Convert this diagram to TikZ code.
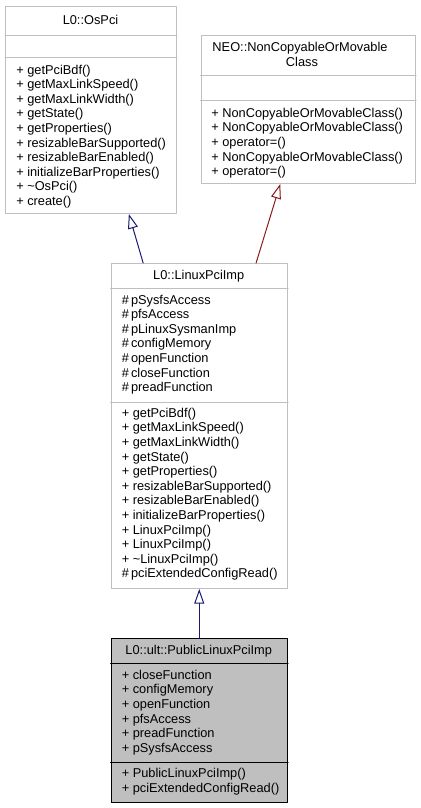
\documentclass[tikz,border=0pt]{standalone}
\usepackage{fontspec}
\setmainfont{Liberation Sans}
\usetikzlibrary{arrows.meta,calc}
\definecolor{umlborder}{HTML}{BFBFBF}
\definecolor{umlcurrent}{HTML}{BFBFBF}
\definecolor{umlblue}{HTML}{191970}
\definecolor{umlred}{HTML}{8B1A1A}
\newcommand{\umlfont}{\fontsize{9.6}{11}\selectfont}
\tikzset{
every picture/.style={line cap=round,line join=round},
class box/.style={
  draw=umlborder,
  line width=0.75pt,
  fill=white,
  inner sep=0pt,
  anchor=north west
},
current box/.style={class box, draw=black, fill=umlcurrent},
class rule/.style={draw=umlborder, line width=0.75pt},
current rule/.style={draw=black, line width=0.75pt},
member/.style={anchor=base west, inner sep=0pt, font=\umlfont},
class title/.style={anchor=base, inner sep=0pt, font=\umlfont},
fig inherit/.style={
  -{Triangle[open,length=11pt,width=7.5pt]},
  line width=0.75pt
}
}
\begin{document}
\begin{tikzpicture}[x=0.75pt,y=-0.75pt]
\useasboundingbox (0,0) rectangle (421,808);
% base classes
\node[class box, minimum width=128.25pt, minimum height=155.6pt] (ospci) at (5,5.5) {};
\node[class box, minimum width=160.9pt, minimum height=111pt] (neo) at (200.5,35) {};
\draw[class rule] (ospci.west |- 0,35) -- (ospci.east |- 0,35);
\draw[class rule] (ospci.west |- 0,57) -- (ospci.east |- 0,57);
\draw[class rule] (neo.west |- 0,75) -- (neo.east |- 0,75);
\draw[class rule] (neo.west |- 0,100.5) -- (neo.east |- 0,100.5);
\node[class title] (ospci title) at (90.5,24) {L0::OsPci};
\foreach \m [count=\i] in {getPciBdf(),getMaxLinkSpeed(),getMaxLinkWidth(),getState(),getProperties(),resizableBarSupported(),resizableBarEnabled(),initializeBarProperties(),\textasciitilde OsPci(),create()} {
\node[member] (ospci op\i) at (16,{59.4+14.6*\i}) {+ \m};
}
\node[class title] (neo title a) at (300,51.5) {NEO::NonCopyableOrMovable};
\node[class title] (neo title b) at (302,66) {Class};
\foreach \m [count=\i] in {NonCopyableOrMovableClass(),NonCopyableOrMovableClass(),operator=(),NonCopyableOrMovableClass(),operator=()} {
\node[member] (neo op\i) at (211,{102.7+14.6*\i}) {+ \m};
}
% LinuxPciImp
\node[class box, minimum width=132.4pt, minimum height=243.75pt] (linux) at (110.5,263) {};
\draw[class rule] (linux.west |- 0,288) -- (linux.east |- 0,288);
\draw[class rule] (linux.west |- 0,402) -- (linux.east |- 0,402);
\node[class title] (linux title) at (198.75,279) {L0::LinuxPciImp};
\foreach \m [count=\i] in {pSysfsAccess,pfsAccess,pLinuxSysmanImp,configMemory,openFunction,closeFunction,preadFunction} {
\node[member] (linux attr\i) at (121.5,{289.4+14.6*\i}) {\#\,\m};
}
\foreach \m [count=\i] in {+ getPciBdf(),+ getMaxLinkSpeed(),+ getMaxLinkWidth(),+ getState(),+ getProperties(),+ resizableBarSupported(),+ resizableBarEnabled(),+ initializeBarProperties(),+ LinuxPciImp(),+ LinuxPciImp(),+ \textasciitilde LinuxPciImp(),\#\,pciExtendedConfigRead()} {
\node[member] (linux op\i) at (121.5,{402.7+14.6*\i}) {\m};
}
% PublicLinuxPciImp
\node[current box, minimum width=132.4pt, minimum height=123pt] (pub) at (110.5,638) {};
\draw[current rule] (pub.west |- 0,663) -- (pub.east |- 0,663);
\draw[current rule] (pub.west |- 0,762) -- (pub.east |- 0,762);
\node[class title] (pub title) at (198.75,654) {L0::ult::PublicLinuxPciImp};
\foreach \m [count=\i] in {closeFunction,configMemory,openFunction,pfsAccess,preadFunction,pSysfsAccess} {
\node[member] (pub attr\i) at (121.5,{664.4+14.66*\i}) {+ \m};
}
\foreach \m [count=\i] in {PublicLinuxPciImp(),pciExtendedConfigRead()} {
\node[member] (pub op\i) at (121.5,{762.3+15*\i}) {+ \m};
}
% inheritance
\draw[fig inherit, umlblue] ($(linux.north west)!0.184!(linux.north east)$) -- ($(ospci.south west)!0.72!(ospci.south east)$);
\draw[fig inherit, umlred] ($(linux.north west)!0.82!(linux.north east)$) -- ($(neo.south west)!0.37!(neo.south east)$);
\draw[fig inherit, umlblue] (pub.north) -- (linux.south);
\end{tikzpicture}
\end{document}
